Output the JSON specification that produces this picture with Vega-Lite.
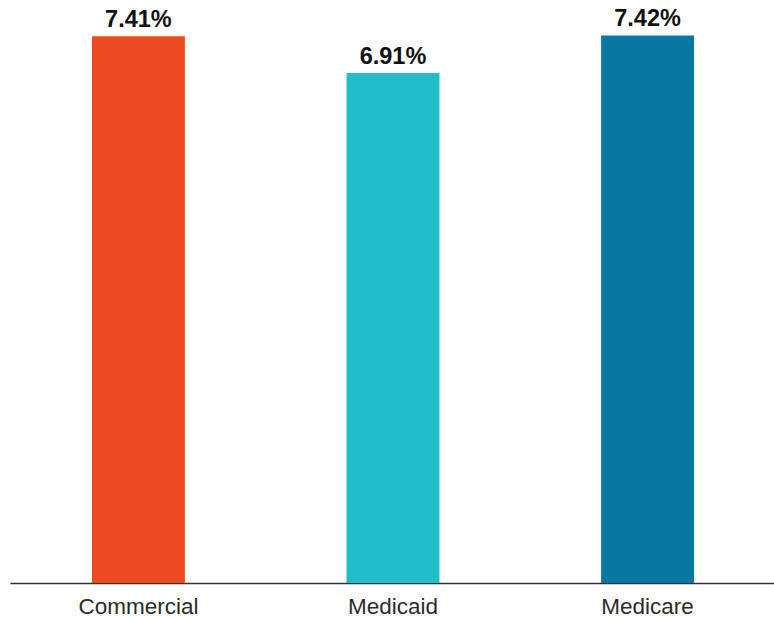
{
  "$schema": "https://vega.github.io/schema/vega-lite/v6.json",
  "autosize": "none",
  "width": 766,
  "height": 583,
  "padding": {"left": 10, "top": 0, "right": 0, "bottom": 36},
  "background": "white",
  "config": {"view": {"stroke": null}, "font": "Liberation Sans"},
  "data": {"values": [
    {"payer": "Commercial", "rate": 7.41, "label": "7.41%"},
    {"payer": "Medicaid", "rate": 6.91, "label": "6.91%"},
    {"payer": "Medicare", "rate": 7.42, "label": "7.42%"}
  ]},
  "encoding": {
    "x": {"field": "payer", "type": "nominal", "sort": null,
      "scale": {"paddingInner": 0.635, "paddingOuter": 0.322},
      "axis": {"title": null, "labelAngle": 0, "labelFontSize": 22.5, "labelColor": "#2b2b2b", "labelFont": "Liberation Sans",
        "ticks": false, "domainColor": "#333333", "domainWidth": 1.5, "labelPadding": 12, "labelBaseline": "top", "zindex": 0}},
    "y": {"field": "rate", "type": "quantitative", "scale": {"domain": [0, 7.9], "nice": false},
      "axis": null}
  },
  "layer": [
    {"mark": {"type": "bar"},
      "encoding": {"color": {"field": "payer", "type": "nominal", "legend": null,
        "scale": {"domain": ["Commercial", "Medicaid", "Medicare"], "range": ["#EF4B23", "#21BDC9", "#0777A3"]}}}},
    {"mark": {"type": "text", "dy": -9, "baseline": "alphabetic", "fontSize": 23.5, "fontWeight": "bold", "font": "Liberation Sans", "color": "#111111"},
      "encoding": {"text": {"field": "label"}}}
  ]
}
